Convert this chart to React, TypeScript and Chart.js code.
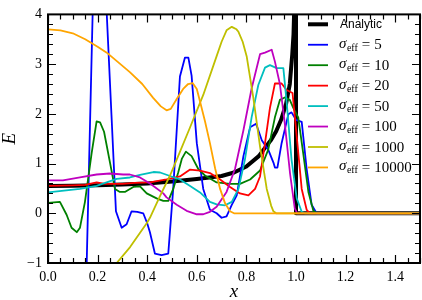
import React, { useEffect, useRef } from "react";
import { Chart, registerables } from "chart.js";

Chart.register(...registerables);

// ---- data ----
const analyticX = [0, 0.1, 0.2, 0.3, 0.4, 0.5, 0.6, 0.7, 0.75, 0.8, 0.85, 0.88, 0.9, 0.92, 0.94, 0.96, 0.975, 0.985, 0.99, 0.995, 1.0, 1.0, 1.5];
const analyticY = [0.55, 0.555, 0.565, 0.58, 0.6, 0.64, 0.69, 0.75, 0.82, 0.94, 1.15, 1.35, 1.48, 1.65, 1.88, 2.2, 2.6, 3.2, 3.6, 4.5, 8, 0, 0];

const sigma5X = [0.146, 0.19, 0.215, 0.237, 0.256, 0.274, 0.297, 0.317, 0.337, 0.36, 0.384, 0.4, 0.411, 0.431, 0.458, 0.485, 0.505, 0.532, 0.552, 0.566, 0.579, 0.6, 0.626, 0.653, 0.68, 0.7, 0.72, 0.741, 0.761, 0.788, 0.815, 0.839, 0.862, 0.888, 0.909, 0.915, 0.925, 0.942, 0.969, 0.982, 1.0, 1.023, 1.043, 1.063, 1.083, 1.5];
const sigma5Y = [-3.1, 6.1, 6.4, 4.0, 1.97, 0.04, -0.29, -0.22, 0.04, 0.03, 0.0, -0.2, -0.38, -0.81, -0.84, -0.81, 0.5, 2.75, 3.13, 3.13, 2.77, 1.41, 0.49, 0.07, 0.0, -0.09, -0.06, 0.17, 0.36, 1.15, 1.73, 1.8, 1.47, 1.28, 1.02, 0.92, 0.92, 1.41, 1.99, 2.03, 1.88, 1.84, 0.89, 0.17, 0.0, 0.0];

const sigma10X = [0, 0.048, 0.075, 0.095, 0.116, 0.129, 0.149, 0.176, 0.196, 0.21, 0.226, 0.25, 0.27, 0.29, 0.31, 0.344, 0.371, 0.398, 0.438, 0.465, 0.485, 0.505, 0.525, 0.54, 0.556, 0.579, 0.606, 0.633, 0.68, 0.734, 0.774, 0.815, 0.855, 0.888, 0.915, 0.935, 0.955, 0.975, 0.989, 1.009, 1.029, 1.05, 1.07, 1.085, 1.5];
const sigma10Y = [0.21, 0.23, -0.03, -0.29, -0.38, -0.29, 0.23, 1.21, 1.85, 1.83, 1.64, 1.02, 0.49, 0.43, 0.43, 0.53, 0.54, 0.4, 0.3, 0.25, 0.25, 0.49, 0.82, 1.1, 1.24, 1.15, 0.89, 0.76, 0.62, 0.59, 0.59, 0.68, 0.86, 1.28, 1.93, 2.28, 2.33, 2.28, 2.12, 1.93, 1.21, 0.43, 0.05, 0.0, 0.0];

const sigma20X = [0, 0.1, 0.15, 0.196, 0.23, 0.3, 0.35, 0.411, 0.478, 0.532, 0.573, 0.613, 0.653, 0.694, 0.734, 0.774, 0.808, 0.835, 0.855, 0.875, 0.895, 0.915, 0.942, 0.962, 0.986, 1.003, 1.023, 1.043, 1.056, 1.5];
const sigma20Y = [0.55, 0.56, 0.57, 0.62, 0.59, 0.59, 0.61, 0.62, 0.68, 0.74, 0.88, 0.86, 0.81, 0.68, 0.53, 0.4, 0.36, 0.49, 0.74, 1.41, 2.12, 2.61, 2.61, 2.48, 2.42, 1.54, 0.49, 0.07, 0.0, 0.0];

const sigma50X = [0, 0.129, 0.196, 0.277, 0.33, 0.371, 0.425, 0.452, 0.492, 0.532, 0.573, 0.613, 0.653, 0.68, 0.714, 0.741, 0.768, 0.794, 0.821, 0.848, 0.875, 0.895, 0.922, 0.949, 0.962, 0.982, 1.003, 1.023, 1.035, 1.5];
const sigma50Y = [0.42, 0.49, 0.55, 0.69, 0.72, 0.77, 0.83, 0.82, 0.75, 0.68, 0.55, 0.42, 0.23, 0.18, 0.16, 0.23, 0.49, 1.08, 1.93, 2.58, 2.93, 2.98, 2.92, 2.92, 2.25, 1.08, 0.3, 0.03, 0.0, 0.0];

const sigma100X = [0, 0.06, 0.129, 0.196, 0.25, 0.303, 0.33, 0.371, 0.411, 0.425, 0.465, 0.478, 0.519, 0.559, 0.6, 0.626, 0.653, 0.68, 0.72, 0.754, 0.788, 0.821, 0.855, 0.875, 0.902, 0.915, 0.935, 0.955, 0.976, 0.995, 1.005, 1.5];
const sigma100Y = [0.66, 0.66, 0.72, 0.78, 0.8, 0.78, 0.78, 0.72, 0.6, 0.55, 0.4, 0.32, 0.17, 0.05, -0.02, -0.02, 0.03, 0.13, 0.43, 0.89, 1.67, 2.51, 3.2, 3.23, 3.29, 3.05, 2.6, 1.8, 0.8, 0.1, 0.0, 0.0];

const sigma1000X = [0, 0.15, 0.277, 0.331, 0.398, 0.411, 0.452, 0.492, 0.519, 0.573, 0.626, 0.68, 0.7, 0.72, 0.741, 0.76, 0.768, 0.785, 0.801, 0.828, 0.855, 0.882, 0.9, 0.909, 0.92, 1.5];
const sigma1000Y = [-2.0, -1.5, -1.0, -0.68, -0.2, -0.09, 0.35, 0.76, 1.08, 1.73, 2.38, 3.16, 3.45, 3.68, 3.75, 3.7, 3.65, 3.45, 3.16, 2.32, 1.34, 0.49, 0.15, 0.04, 0.0, 0.0];

const sigma10000X = [0, 0.05, 0.1, 0.15, 0.2, 0.237, 0.28, 0.33, 0.38, 0.424, 0.455, 0.478, 0.495, 0.519, 0.545, 0.565, 0.583, 0.6, 0.613, 0.633, 0.653, 0.674, 0.694, 0.714, 0.734, 0.75, 1.5];
const sigma10000Y = [3.7, 3.68, 3.62, 3.5, 3.35, 3.23, 3.05, 2.84, 2.6, 2.32, 2.15, 2.07, 2.1, 2.3, 2.5, 2.6, 2.62, 2.5, 2.25, 1.85, 1.41, 0.9, 0.49, 0.2, 0.04, 0.0, 0.0];

const sigmaLabels = ["5", "10", "20", "50", "100", "1000", "10000"];
const sigmaColors = ["#0000ff", "#008000", "#ff0000", "#00bfbf", "#bf00bf", "#bfbf00", "#ffa500"];
const sigmaXs = [sigma5X, sigma10X, sigma20X, sigma50X, sigma100X, sigma1000X, sigma10000X];
const sigmaYs = [sigma5Y, sigma10Y, sigma20Y, sigma50Y, sigma100Y, sigma1000Y, sigma10000Y];

const analyticLabel = "Analytic";
const xAxisTitle = "x";
const yAxisTitle = "E";

const SERIF = '"Liberation Serif", "DejaVu Serif", serif';
const SANS = '"Liberation Sans", Arial, sans-serif';

function zip(xs: number[], ys: number[]) {
  return xs.map((x, i) => ({ x, y: ys[i] }));
}

const axesPlugin = {
  id: "mplAxes",
  afterDatasetsDraw(chart: any) {
    const { ctx, chartArea: a, scales } = chart;
    const xs = scales.x;
    const ys = scales.y;
    ctx.save();
    ctx.strokeStyle = "#000";
    ctx.lineWidth = 1.2;
    ctx.beginPath();
    // x ticks (major every 0.2, minor every 0.05)
    for (let i = 0; i <= 30; i++) {
      const v = i * 0.05;
      const len = i % 4 === 0 ? 8 : 5;
      const px = Math.round(xs.getPixelForValue(v)) + 0.5;
      ctx.moveTo(px, a.bottom);
      ctx.lineTo(px, a.bottom - len);
      ctx.moveTo(px, a.top);
      ctx.lineTo(px, a.top + len);
    }
    // y ticks (major every 1, minor every 0.2)
    for (let i = 0; i <= 25; i++) {
      const v = -1 + i * 0.2;
      const len = i % 5 === 0 ? 8 : 5;
      const py = Math.round(ys.getPixelForValue(v)) + 0.5;
      ctx.moveTo(a.left, py);
      ctx.lineTo(a.left + len, py);
      ctx.moveTo(a.right, py);
      ctx.lineTo(a.right - len, py);
    }
    ctx.stroke();
    ctx.lineWidth = 2;
    ctx.strokeRect(a.left, a.top, a.right - a.left, a.bottom - a.top);

    // axis titles
    ctx.fillStyle = "#000";
    ctx.font = `italic 19px ${SERIF}`;
    ctx.textAlign = "center";
    ctx.textBaseline = "alphabetic";
    ctx.fillText(xAxisTitle, (a.left + a.right) / 2, 297);
    ctx.save();
    ctx.translate(15, (a.top + a.bottom) / 2);
    ctx.rotate(-Math.PI / 2);
    ctx.fillText(yAxisTitle, 0, 0);
    ctx.restore();

    // legend
    const rowY0 = 24.3;
    const rowStep = 20.45;
    const lx0 = 308;
    const lx1 = 328;
    const tx = 339;
    const ds = chart.data.datasets;
    ds.forEach((d: any, i: number) => {
      const ry = rowY0 + i * rowStep;
      ctx.strokeStyle = d.borderColor;
      ctx.lineWidth = d.borderWidth;
      ctx.beginPath();
      ctx.moveTo(lx0, ry);
      ctx.lineTo(lx1, ry);
      ctx.stroke();
      ctx.fillStyle = "#000";
      ctx.textAlign = "left";
      if (i === 0) {
        ctx.font = `12px ${SANS}`;
        ctx.textBaseline = "middle";
        ctx.fillText(d.label, tx + 1, ry);
      } else {
        ctx.textBaseline = "alphabetic";
        let x = tx;
        ctx.font = `italic 15px ${SERIF}`;
        ctx.fillText("σ", x, ry + 3);
        x += ctx.measureText("σ").width + 0.5;
        ctx.font = `10px ${SERIF}`;
        ctx.fillText("eff", x, ry + 6);
        x += ctx.measureText("eff").width + 4;
        ctx.font = `15px ${SERIF}`;
        ctx.fillText("=", x, ry + 4.5);
        x += ctx.measureText("=").width + 4;
        ctx.fillText(sigmaLabels[i - 1], x, ry + 4.5);
      }
    });
    ctx.restore();
  },
};

export default function App() {
  const canvasRef = useRef<HTMLCanvasElement | null>(null);

  useEffect(() => {
    const canvas = canvasRef.current;
    if (!canvas) return;
    const datasets: any[] = [
      {
        label: analyticLabel,
        data: zip(analyticX, analyticY),
        borderColor: "#000000",
        borderWidth: 4,
        order: 10,
      },
      ...sigmaLabels.map((s, i) => ({
        label: `σ_eff = ${s}`,
        data: zip(sigmaXs[i], sigmaYs[i]),
        borderColor: sigmaColors[i],
        borderWidth: 1.8,
        order: sigmaLabels.length - 1 - i,
      })),
    ].map((d) => ({
      ...d,
      pointRadius: 0,
      tension: 0,
      fill: false,
      clip: 0,
      borderJoinStyle: "round",
      borderCapStyle: "butt",
    }));

    const chart = new Chart(canvas, {
      type: "line",
      data: { datasets },
      plugins: [axesPlugin],
      options: {
        animation: false,
        responsive: false,
        devicePixelRatio: 1,
        parsing: false,
        layout: { padding: { left: 0, right: 2, top: 7, bottom: 0 } },
        plugins: { legend: { display: false }, tooltip: { enabled: false } },
        scales: {
          x: {
            type: "linear",
            min: 0,
            max: 1.5,
            grid: { display: false, drawTicks: false },
            border: { display: false },
            ticks: {
              stepSize: 0.2,
              includeBounds: false,
              autoSkip: false,
              maxRotation: 0,
              padding: 6,
              color: "#000",
              font: { family: SERIF, size: 14 },
              callback: (v: any) => Number(v).toFixed(1),
            },
            afterFit: (s: any) => {
              s.height = 37;
            },
          },
          y: {
            type: "linear",
            min: -1,
            max: 4,
            grid: { display: false, drawTicks: false },
            border: { display: false },
            ticks: {
              stepSize: 1,
              autoSkip: false,
              padding: 6,
              color: "#000",
              font: { family: SERIF, size: 14 },
              callback: (v: any) => String(Math.round(Number(v))).replace("-", "\u2212"),
            },
            afterFit: (s: any) => {
              s.width = 48;
            },
          },
        },
      },
    } as any);
    return () => chart.destroy();
  }, []);

  return (
    <div style={{ position: "fixed", left: 0, top: 0, width: 422, height: 300, background: "#fff" }}>
      <canvas ref={canvasRef} width={422} height={300} style={{ display: "block" }} />
    </div>
  );
}
